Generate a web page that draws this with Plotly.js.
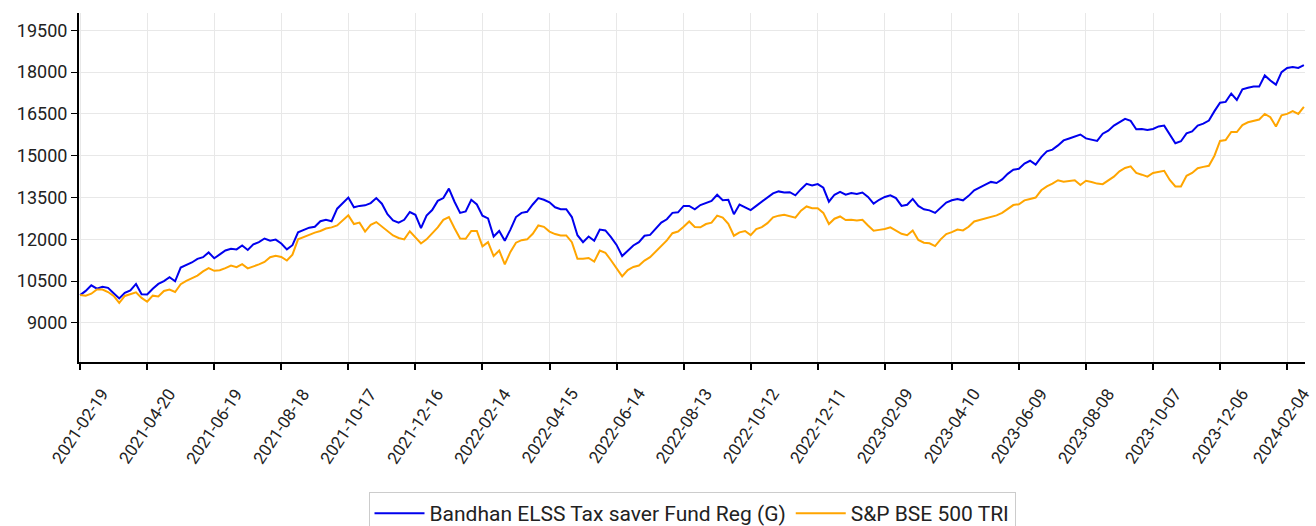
<!DOCTYPE html>
<html>
<head>
<meta charset="utf-8">
<script src="https://cdn.plot.ly/plotly-3.0.1.min.js"></script>
<style>html,body{margin:0;padding:0;background:#fff;}#chart{width:1316px;height:526px;}</style>
</head>
<body>
<div id="chart"></div>
<script>
const dates = [
'2021-02-19','2021-02-24','2021-03-01','2021-03-06','2021-03-11','2021-03-16','2021-03-21','2021-03-26','2021-03-31','2021-04-05','2021-04-10','2021-04-15',
'2021-04-20','2021-04-25','2021-04-30','2021-05-05','2021-05-10','2021-05-15','2021-05-20','2021-05-25','2021-05-30','2021-06-04','2021-06-09','2021-06-14',
'2021-06-19','2021-06-24','2021-06-29','2021-07-04','2021-07-09','2021-07-14','2021-07-19','2021-07-24','2021-07-29','2021-08-03','2021-08-08','2021-08-13',
'2021-08-18','2021-08-23','2021-08-28','2021-09-02','2021-09-07','2021-09-12','2021-09-17','2021-09-22','2021-09-27','2021-10-02','2021-10-07','2021-10-12',
'2021-10-17','2021-10-22','2021-10-27','2021-11-01','2021-11-06','2021-11-11','2021-11-16','2021-11-21','2021-11-26','2021-12-01','2021-12-06','2021-12-11',
'2021-12-16','2021-12-21','2021-12-26','2021-12-31','2022-01-05','2022-01-10','2022-01-15','2022-01-20','2022-01-25','2022-01-30','2022-02-04','2022-02-09',
'2022-02-14','2022-02-19','2022-02-24','2022-03-01','2022-03-06','2022-03-11','2022-03-16','2022-03-21','2022-03-26','2022-03-31','2022-04-05','2022-04-10',
'2022-04-15','2022-04-20','2022-04-25','2022-04-30','2022-05-05','2022-05-10','2022-05-15','2022-05-20','2022-05-25','2022-05-30','2022-06-04','2022-06-09',
'2022-06-14','2022-06-19','2022-06-24','2022-06-29','2022-07-04','2022-07-09','2022-07-14','2022-07-19','2022-07-24','2022-07-29','2022-08-03','2022-08-08',
'2022-08-13','2022-08-18','2022-08-23','2022-08-28','2022-09-02','2022-09-07','2022-09-12','2022-09-17','2022-09-22','2022-09-27','2022-10-02','2022-10-07',
'2022-10-12','2022-10-17','2022-10-22','2022-10-27','2022-11-01','2022-11-06','2022-11-11','2022-11-16','2022-11-21','2022-11-26','2022-12-01','2022-12-06',
'2022-12-11','2022-12-16','2022-12-21','2022-12-26','2022-12-31','2023-01-05','2023-01-10','2023-01-15','2023-01-20','2023-01-25','2023-01-30','2023-02-04',
'2023-02-09','2023-02-14','2023-02-19','2023-02-24','2023-03-01','2023-03-06','2023-03-11','2023-03-16','2023-03-21','2023-03-26','2023-03-31','2023-04-05',
'2023-04-10','2023-04-15','2023-04-20','2023-04-25','2023-04-30','2023-05-05','2023-05-10','2023-05-15','2023-05-20','2023-05-25','2023-05-30','2023-06-04',
'2023-06-09','2023-06-14','2023-06-19','2023-06-24','2023-06-29','2023-07-04','2023-07-09','2023-07-14','2023-07-19','2023-07-24','2023-07-29','2023-08-03',
'2023-08-08','2023-08-13','2023-08-18','2023-08-23','2023-08-28','2023-09-02','2023-09-07','2023-09-12','2023-09-17','2023-09-22','2023-09-27','2023-10-02',
'2023-10-07','2023-10-12','2023-10-17','2023-10-22','2023-10-27','2023-11-01','2023-11-06','2023-11-11','2023-11-16','2023-11-21','2023-11-26','2023-12-01',
'2023-12-06','2023-12-11','2023-12-16','2023-12-21','2023-12-26','2023-12-31','2024-01-05','2024-01-10','2024-01-15','2024-01-20','2024-01-25','2024-01-30',
'2024-02-04','2024-02-09','2024-02-14','2024-02-19'
];

const fundValues = [
10000,10150,10350,10230,10300,10260,10070,9880,10080,10170,10400,10030,
10020,10230,10400,10500,10640,10495,10990,11080,11170,11300,11360,11530,
11320,11460,11600,11665,11640,11780,11620,11820,11900,12030,11950,11990,
11850,11640,11790,12250,12330,12420,12450,12650,12700,12650,13100,13300,
13500,13150,13200,13220,13300,13480,13280,12900,12680,12600,12700,12980,
12880,12400,12850,13050,13380,13480,13820,13350,12950,13000,13420,13250,
12850,12750,12100,12300,11950,12350,12800,12950,12990,13250,13480,13420,
13330,13150,13080,13080,12800,12150,11900,12100,11950,12350,12320,12080,
11800,11400,11600,11780,11900,12130,12160,12380,12600,12720,12950,12970,
13200,13200,13080,13230,13300,13380,13600,13400,13420,12900,13250,13150,
13050,13200,13340,13500,13650,13720,13680,13690,13580,13800,13990,13930,
13980,13850,13350,13600,13700,13600,13660,13630,13680,13520,13280,13420,
13520,13580,13480,13200,13240,13450,13200,13080,13040,12950,13140,13320,
13400,13450,13400,13560,13760,13850,13960,14060,14020,14150,14350,14500,
14530,14720,14820,14680,14950,15160,15220,15370,15550,15620,15700,15760,
15620,15580,15530,15790,15900,16080,16200,16320,16250,15950,15960,15920,
15960,16050,16080,15740,15450,15520,15800,15870,16080,16150,16260,16600,
16900,16930,17230,17000,17380,17440,17480,17480,17880,17700,17550,18000,
18150,18180,18150,18250
];

const indexValues = [
10000,9980,10050,10200,10200,10110,9970,9720,9970,10040,10100,9900,
9760,9980,9950,10150,10200,10110,10390,10510,10600,10700,10850,10970,
10870,10890,10970,11060,11000,11110,10960,11020,11100,11190,11360,11410,
11370,11240,11450,12000,12070,12160,12240,12300,12390,12430,12500,12680,
12860,12550,12600,12280,12520,12620,12450,12300,12140,12050,12000,12290,
12080,11850,12000,12200,12430,12700,12800,12400,12030,12020,12300,12300,
11750,11900,11400,11600,11100,11550,11880,11970,12000,12200,12500,12450,
12280,12190,12140,12140,11900,11300,11300,11330,11200,11600,11520,11250,
10950,10670,10900,11010,11060,11240,11360,11550,11760,11960,12220,12280,
12450,12640,12440,12430,12550,12600,12850,12780,12560,12130,12250,12300,
12150,12370,12440,12580,12790,12850,12880,12830,12780,13030,13180,13120,
13120,12950,12550,12740,12820,12690,12700,12680,12700,12500,12310,12340,
12370,12430,12320,12200,12150,12320,11980,11880,11860,11760,12000,12190,
12260,12350,12320,12450,12640,12700,12760,12820,12860,12950,13080,13230,
13260,13400,13450,13500,13760,13900,14000,14120,14070,14090,14120,13950,
14100,14060,14000,13980,14130,14250,14440,14560,14620,14380,14320,14250,
14380,14420,14460,14130,13900,13900,14280,14380,14550,14600,14640,15000,
15530,15560,15850,15850,16100,16200,16260,16300,16500,16380,16050,16450,
16500,16600,16500,16750
];

const seriesNames = ['Bandhan ELSS Tax saver Fund Reg (G)', 'S&P BSE 500 TRI'];
const seriesColors = ['#0000ee', '#ffa500'];
const yTickValues = [9000, 10500, 12000, 13500, 15000, 16500, 18000, 19500];
const xTickDates = [
'2021-02-19','2021-04-20','2021-06-19','2021-08-18','2021-10-17','2021-12-16','2022-02-14',
'2022-04-15','2022-06-14','2022-08-13','2022-10-12','2022-12-11','2023-02-09','2023-04-10',
'2023-06-09','2023-08-08','2023-10-07','2023-12-06','2024-02-04'
];

const traces = [
  {x: dates, y: fundValues, name: seriesNames[0], type: 'scatter', mode: 'lines',
   line: {color: seriesColors[0], width: 2}},
  {x: dates, y: indexValues, name: seriesNames[1], type: 'scatter', mode: 'lines',
   line: {color: seriesColors[1], width: 2}}
];

const tickFont = {family: 'Roboto, "Noto Sans", sans-serif', size: 18, color: '#222'};
const xLabelFont = {family: 'Roboto, "Noto Sans", sans-serif', size: 17, color: '#222'};
const legendFont = {family: 'Roboto, "Noto Sans", sans-serif', size: 21, color: '#222'};

// x tick labels: rotated text centred on each tick (as in the reference)
const xLabelAnnotations = xTickDates.map((d, i) => ({
  x: d, xref: 'x', y: -0.183, yref: 'paper',
  text: d, showarrow: false, textangle: -56, borderpad: 0,
  xshift: i === xTickDates.length - 1 ? -6 : 0,
  xanchor: 'center', yanchor: 'middle', font: xLabelFont
}));

const layout = {
  width: 1316, height: 526,
  margin: {l: 79, r: 11, t: 13, b: 164, autoexpand: false},
  paper_bgcolor: '#fff', plot_bgcolor: '#fff',
  font: tickFont,
  showlegend: true,
  legend: {orientation: 'h', x: 0.5, xanchor: 'center', y: -0.3725, yanchor: 'top',
           bordercolor: '#cccccc', borderwidth: 1, font: legendFont,
           itemwidth: 50, traceorder: 'normal'},
  annotations: xLabelAnnotations,
  xaxis: {
    type: 'date', automargin: false,
    range: ['2021-02-18', '2024-02-20'],
    tickvals: xTickDates, showticklabels: false,
    showgrid: true, gridcolor: '#e8e8e8', gridwidth: 1,
    showline: true, linecolor: '#000', linewidth: 2,
    ticks: 'outside', ticklen: 6, tickwidth: 2, tickcolor: '#000',
    zeroline: false
  },
  yaxis: {
    automargin: false,
    range: [7600, 20120],
    tickvals: yTickValues, tickformat: 'd',
    showgrid: true, gridcolor: '#e8e8e8', gridwidth: 1,
    showline: true, linecolor: '#000', linewidth: 2,
    ticks: 'outside', ticklen: 6, tickwidth: 1, tickcolor: '#000',
    zeroline: false, tickfont: tickFont
  }
};

Plotly.newPlot('chart', traces, layout, {displayModeBar: false, staticPlot: true});
</script>
</body>
</html>
